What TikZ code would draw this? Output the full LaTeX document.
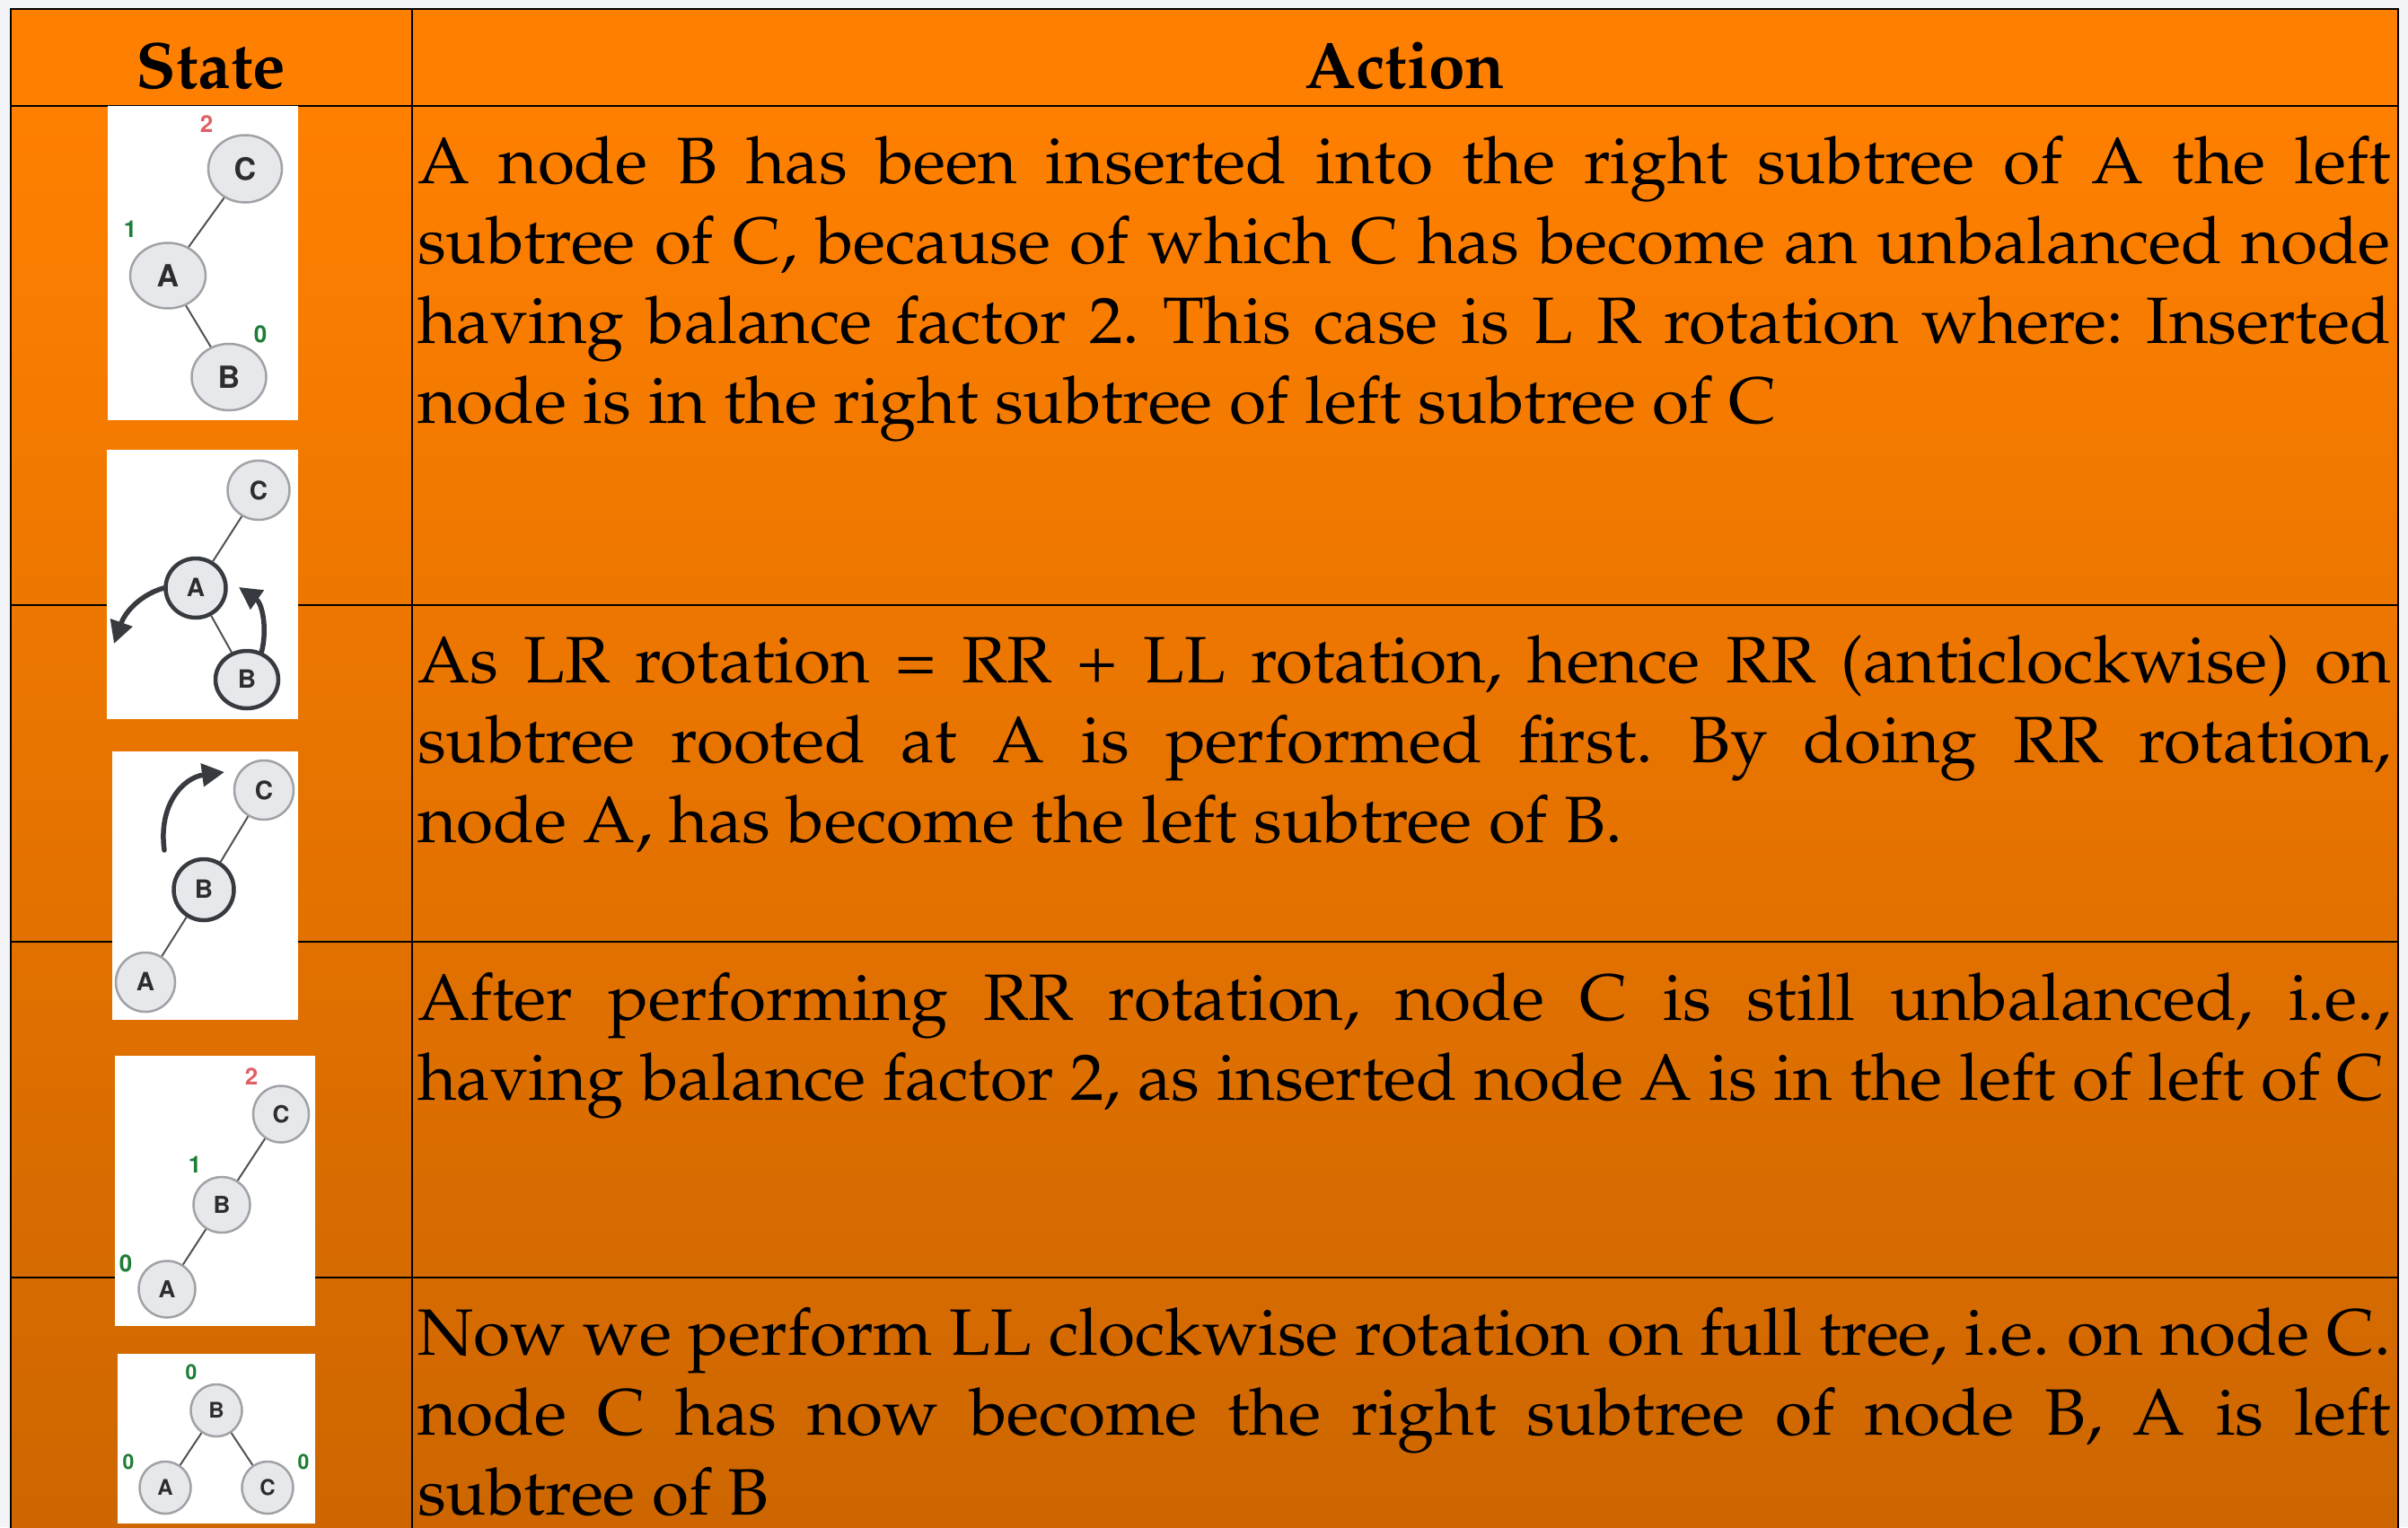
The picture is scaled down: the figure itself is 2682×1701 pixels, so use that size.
\documentclass[tikz,border=0pt]{standalone}
\usepackage[T1]{fontenc}
\usepackage{palatino}
\usepackage{graphicx}
\usetikzlibrary{shapes.geometric,arrows.meta}

\definecolor{pagebg}{RGB}{243,244,247}
\definecolor{orangetop}{RGB}{255,128,0}
\definecolor{orangebot}{RGB}{205,102,0}
\definecolor{nodefill}{RGB}{231,232,236}
\definecolor{nodeedge}{RGB}{160,162,166}
\definecolor{nodedark}{RGB}{55,58,63}
\definecolor{nodeletter}{RGB}{45,45,48}
\definecolor{edgegray}{RGB}{80,82,86}
\definecolor{bfgreen}{RGB}{30,125,55}
\definecolor{bfred}{RGB}{222,96,100}

% justified paragraph of the Action column, slightly widened type
\newcommand\actiontext[1]{\scalebox{1.025}[1]{\parbox[t]{2144pt}{%
  \fontsize{73}{89}\selectfont\frenchspacing\tolerance=10000 #1}}}

\tikzset{
  rule/.style={line width=2.5pt, draw=black},
  headtext/.style={anchor=base, inner sep=0pt, font=\fontsize{73}{89}\selectfont\bfseries},
  celltext/.style={anchor=base west, inner sep=0pt},
  picframe/.style={fill=white},
  treenode/.style={ellipse, draw=nodeedge, fill=nodefill, line width=2.5pt, inner sep=0pt,
                   text=nodeletter},
  heavynode/.style={treenode, draw=nodedark, line width=4.5pt},
  treeedge/.style={draw=edgegray, line width=2pt},
  bfactor/.style={inner sep=0pt, font=\sffamily\bfseries\fontsize{26}{26}\selectfont},
  turnarrow/.style={draw=nodedark, line width=5.5pt, line cap=round,
                    -{Triangle[length=25pt,width=25pt]}},
}

\begin{document}
\begin{tikzpicture}[x=1pt,y=-1pt]
\useasboundingbox (0,0) rectangle (2682,1701);
\clip (0,0) rectangle (2682,1701);
\fill[pagebg] (0,0) rectangle (2682,1701);

% table body: flat header, rows fading to a darker orange
\fill[orangetop] (12,10) rectangle (2671,118);
\shade[top color=orangetop, bottom color=orangebot] (12,118) rectangle (2671,1701);

% grid
\draw[rule] (12,1720) -- (12,10) -- (2671,10) -- (2671,1720);
\draw[rule] (459,10) -- (459,1720);
\foreach \yy in {118,674,1049,1423} \draw[rule] (12,\yy) -- (2671,\yy);

% headings
\node[headtext] (hstate) at (235,98) {State};
\node[headtext] (haction) at (1565,98) {Action};

% action texts
\node[celltext] (act1) at (465,204) {\actiontext{A node B has been inserted into the right subtree of A the left\linebreak
subtree of C, because of which C has become an unbalanced node\linebreak
having balance factor 2. This case is L R rotation where: Inserted\linebreak
node is in the right subtree of left subtree of C}};

\node[celltext] (act2) at (465,760) {\actiontext{As LR rotation = RR + LL rotation, hence RR (anticlockwise) on\linebreak
subtree rooted at A is performed first. By doing RR rotation,\linebreak
node A, has become the left subtree of B.}};

\node[celltext] (act3) at (465,1136) {\actiontext{After performing RR rotation, node C is still unbalanced, i.e.,\linebreak
having balance factor 2, as inserted node A is in the left of left of C}};

\node[celltext] (act4) at (465,1509) {\actiontext{Now we perform LL clockwise rotation on full tree, i.e. on node C.\linebreak
node C has now become the right subtree of node B, A is left\linebreak
subtree of B}};

% ---- state 1: after inserting B
\fill[picframe] (120,118) rectangle (332,468);
\begin{scope}[every node/.append style={font=\sffamily\bfseries\fontsize{34}{34}\selectfont}]
  \node[treenode, minimum width=82pt, minimum height=75pt] (c1) at (273,188) {C};
  \node[treenode, minimum width=84pt, minimum height=73pt] (a1) at (187,307) {A};
  \node[treenode, minimum width=83pt, minimum height=74pt] (b1) at (255,420) {B};
\end{scope}
\draw[treeedge] (c1) -- (a1);
\draw[treeedge] (a1) -- (b1);
\node[bfactor, text=bfred] (f1c) at (230,138) {2};
\node[bfactor, text=bfgreen] (f1a) at (145,255) {1};
\node[bfactor, text=bfgreen] (f1b) at (290,372) {0};

% ---- state 2: RR rotation about A
\fill[picframe] (119,501) rectangle (332,801);
\begin{scope}[every node/.append style={font=\sffamily\bfseries\fontsize{28}{28}\selectfont}]
  \node[treenode, minimum width=69pt, minimum height=66pt] (c2) at (288,546) {C};
  \node[heavynode, minimum width=67pt, minimum height=66pt] (a2) at (218,655) {A};
  \node[heavynode, minimum width=70pt, minimum height=64pt] (b2) at (275,757) {B};
\end{scope}
\draw[treeedge] (c2) -- (a2);
\draw[treeedge] (a2) -- (b2);
\draw[turnarrow] (a2.west) .. controls (158,662) and (140,680) .. (127,717);
\draw[turnarrow] (b2.62) .. controls (298,700) and (292,672) .. (266,654);

% ---- state 3: LL rotation about C
\fill[picframe] (125,837) rectangle (332,1136);
\begin{scope}[every node/.append style={font=\sffamily\bfseries\fontsize{28}{28}\selectfont}]
  \node[treenode, minimum width=66pt, minimum height=66pt] (c3) at (294,880) {C};
  \node[heavynode, minimum width=67pt, minimum height=68pt] (b3) at (227,991) {B};
  \node[treenode, minimum width=66pt, minimum height=66pt] (a3) at (162,1094) {A};
\end{scope}
\draw[treeedge] (c3) -- (b3);
\draw[treeedge] (b3) -- (a3);
\coordinate (t3) at (183,947);
\draw[turnarrow] (t3) .. controls (176,895) and (205,866) .. (250,860);

% ---- state 4: C still unbalanced
\fill[picframe] (128,1176) rectangle (351,1477);
\begin{scope}[every node/.append style={font=\sffamily\bfseries\fontsize{26}{26}\selectfont}]
  \node[treenode, minimum width=62pt, minimum height=63pt] (c4) at (313,1241) {C};
  \node[treenode, minimum width=63pt, minimum height=62pt] (b4) at (247,1342) {B};
  \node[treenode, minimum width=63pt, minimum height=63pt] (a4) at (186,1436) {A};
\end{scope}
\draw[treeedge] (c4) -- (b4);
\draw[treeedge] (b4) -- (a4);
\node[bfactor, text=bfred] (f4c) at (280,1199) {2};
\node[bfactor, text=bfgreen] (f4b) at (217,1297) {1};
\node[bfactor, text=bfgreen] (f4a) at (140,1407) {0};

% ---- state 5: balanced tree
\fill[picframe] (131,1508) rectangle (351,1697);
\begin{scope}[every node/.append style={font=\sffamily\bfseries\fontsize{24}{24}\selectfont}]
  \node[treenode, minimum width=57pt, minimum height=58pt] (b5) at (241,1571) {B};
  \node[treenode, minimum width=57pt, minimum height=58pt] (a5) at (184,1657) {A};
  \node[treenode, minimum width=57pt, minimum height=58pt] (c5) at (298,1657) {C};
\end{scope}
\draw[treeedge] (b5) -- (a5);
\draw[treeedge] (b5) -- (c5);
\node[bfactor, text=bfgreen, font=\sffamily\bfseries\fontsize{23}{23}\selectfont] (f5b) at (213,1528) {0};
\node[bfactor, text=bfgreen, font=\sffamily\bfseries\fontsize{23}{23}\selectfont] (f5a) at (143,1628) {0};
\node[bfactor, text=bfgreen, font=\sffamily\bfseries\fontsize{23}{23}\selectfont] (f5c) at (338,1628) {0};
\end{tikzpicture}
\end{document}
